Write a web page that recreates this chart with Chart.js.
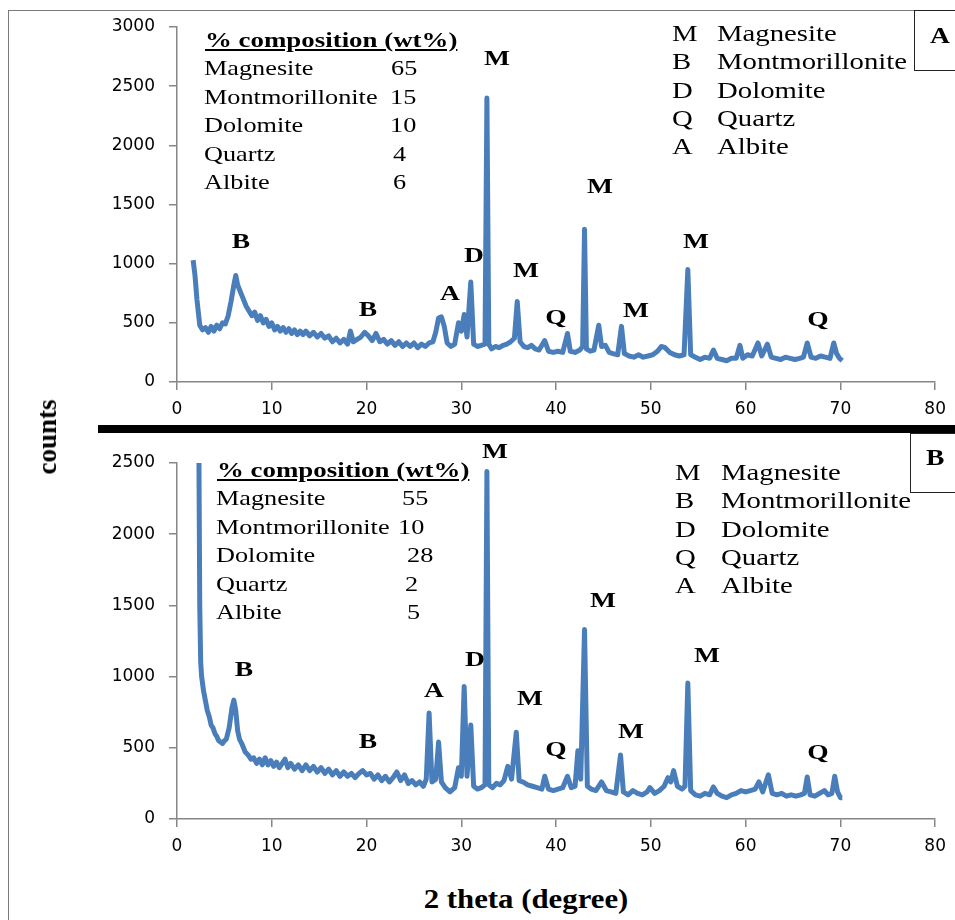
<!DOCTYPE html>
<html>
<head>
<meta charset="utf-8">
<script src="https://cdn.jsdelivr.net/npm/chart.js@4.4.0/dist/chart.umd.min.js"></script>
<style>
  body { margin: 0; background: #fff; }
  #page { position: relative; width: 955px; height: 920px; overflow: hidden; background: #fff; }
  canvas { position: absolute; left: 0; }
  .t { position: absolute; font-family: "Liberation Serif", "Times New Roman", serif; color: #000; white-space: nowrap; transform-origin: left center; line-height: 24px; }
  .pk { font-weight: bold; font-size: 22px; transform: translateX(-50%) scaleX(1.25); transform-origin: center center; }
  .frame { position: absolute; left: 8px; top: 10px; width: 960px; height: 920px; border-left: 1.5px solid #7a7a7a; border-top: 1.5px solid #7a7a7a; }
  .bar { position: absolute; left: 98px; top: 425px; width: 870px; height: 8px; background: #000; }
  .box { position: absolute; border: 1.5px solid #222; background: #fff; }
</style>
</head>
<body>
<div id="page">
  <div class="frame"></div>
  <canvas id="chartA" width="955" height="425" style="top:0"></canvas>
  <canvas id="chartB" width="955" height="440" style="top:430px"></canvas>
  <div class="bar"></div>
  <div class="box" style="left:914px; top:10px; width:60px; height:59px;"></div>
  <div class="box" style="left:910px; top:433px; width:60px; height:58px;"></div>
  <div id="texts"></div>
</div>
<script>
// phases and compositions (wt%)
const phaseCodes = ["M", "B", "D", "Q", "A"];
const phaseNames = ["Magnesite", "Montmorillonite", "Dolomite", "Quartz", "Albite"];
const compA = ["65", "15", "10", "4", "6"];
const compB = ["55", "10", "28", "2", "5"];

// x axis (2 theta) and y axes
const xTickStep = 10;
const yMaxA = 3000;
const yMaxB = 2500;

// sample A
const thetaA = [1.7, 1.9, 2.1, 2.4, 2.7, 3.0, 3.3, 3.6, 3.9, 4.2, 4.5, 4.8, 5.1, 5.4, 5.7, 6.0, 6.2, 6.4, 6.7, 7.0,
  7.3, 7.6, 7.9, 8.2, 8.5, 8.8, 9.1, 9.4, 9.7, 10.0, 10.3, 10.6, 10.9, 11.2, 11.5, 11.8, 12.1, 12.4, 12.7, 13.0,
  13.3, 13.6, 14.0, 14.4, 14.8, 15.2, 15.6, 16.0, 16.4, 16.8, 17.2, 17.6, 18.0, 18.3, 18.6, 19.0, 19.4, 19.8, 20.2, 20.6,
  21.0, 21.4, 21.8, 22.2, 22.6, 23.0, 23.4, 23.8, 24.2, 24.6, 25.0, 25.4, 25.8, 26.2, 26.6, 27.0, 27.3, 27.6, 27.9, 28.2,
  28.5, 28.9, 29.3, 29.7, 30.0, 30.3, 30.6, 31.0, 31.3, 31.7, 32.1, 32.5, 32.7, 32.9, 33.2, 33.6, 34.0, 34.4, 34.8, 35.2,
  35.6, 35.9, 36.2, 36.6, 37.0, 37.4, 37.8, 38.2, 38.8, 39.2, 39.7, 40.2, 40.7, 41.2, 41.5, 42.0, 42.5, 42.8, 43.0, 43.2,
  43.6, 44.0, 44.5, 44.8, 45.2, 45.6, 46.0, 46.5, 46.9, 47.2, 47.7, 48.2, 48.7, 49.2, 49.7, 50.2, 50.7, 51.1, 51.5, 52.0,
  52.5, 53.0, 53.5, 53.9, 54.2, 54.7, 55.2, 55.7, 56.2, 56.6, 57.0, 57.5, 58.0, 58.5, 59.0, 59.4, 59.7, 60.2, 60.7, 61.3,
  61.7, 62.3, 62.7, 63.2, 63.7, 64.2, 64.7, 65.2, 65.7, 66.1, 66.5, 66.9, 67.4, 67.9, 68.4, 68.9, 69.3, 69.6, 69.9, 70.2];
const countsA = [1030, 900, 700, 480, 440, 460, 420, 470, 430, 480, 450, 500, 490, 560, 680, 820, 900, 820, 760, 700,
  640, 600, 560, 590, 520, 560, 500, 530, 470, 500, 440, 470, 430, 460, 420, 450, 410, 440, 400, 430,
  400, 430, 390, 420, 380, 410, 370, 390, 340, 370, 330, 360, 320, 430, 340, 360, 380, 420, 390, 350,
  410, 340, 360, 320, 350, 310, 340, 300, 330, 300, 330, 290, 320, 300, 330, 340, 420, 540, 550, 470,
  330, 300, 320, 500, 430, 570, 380, 845, 320, 300, 310, 320, 2400, 320, 280, 300, 290, 310, 320, 340,
  370, 680, 340, 300, 290, 310, 280, 270, 350, 260, 250, 260, 250, 410, 260, 250, 270, 300, 1290, 280,
  260, 270, 480, 300, 310, 250, 240, 230, 470, 240, 220, 210, 230, 210, 220, 230, 260, 300, 290, 250,
  230, 220, 230, 950, 230, 210, 190, 210, 200, 270, 200, 190, 180, 200, 200, 310, 200, 230, 220, 330,
  220, 320, 210, 200, 190, 210, 200, 190, 200, 210, 330, 210, 200, 220, 210, 200, 330, 240, 200, 180];

// sample B
const thetaB = [2.3, 2.4, 2.5, 2.6, 2.8, 3.0, 3.2, 3.4, 3.6, 3.8, 4.0, 4.2, 4.4, 4.6, 4.8, 5.0, 5.2, 5.5, 5.8, 6.0,
  6.2, 6.4, 6.6, 6.9, 7.2, 7.5, 7.8, 8.1, 8.4, 8.7, 9.0, 9.3, 9.6, 9.9, 10.2, 10.5, 10.8, 11.1, 11.4, 11.7,
  12.0, 12.4, 12.8, 13.2, 13.6, 14.0, 14.4, 14.8, 15.2, 15.6, 16.0, 16.4, 16.8, 17.2, 17.6, 18.0, 18.4, 18.8, 19.2, 19.6,
  20.0, 20.4, 20.8, 21.2, 21.6, 22.0, 22.4, 22.8, 23.2, 23.6, 24.0, 24.4, 24.8, 25.2, 25.6, 26.0, 26.3, 26.6, 26.9, 27.3,
  27.6, 27.9, 28.3, 28.8, 29.3, 29.7, 30.0, 30.3, 30.6, 31.0, 31.3, 31.7, 32.1, 32.5, 32.7, 32.9, 33.3, 33.7, 34.1, 34.5,
  34.9, 35.3, 35.8, 36.1, 36.5, 37.0, 37.5, 38.0, 38.5, 38.8, 39.2, 39.7, 40.2, 40.7, 41.2, 41.6, 42.0, 42.3, 42.6, 43.0,
  43.3, 43.7, 44.2, 44.8, 45.3, 45.8, 46.3, 46.8, 47.1, 47.6, 48.1, 48.6, 49.1, 49.6, 49.9, 50.4, 50.9, 51.4, 51.8, 52.1,
  52.4, 52.8, 53.3, 53.6, 53.9, 54.2, 54.7, 55.2, 55.7, 56.2, 56.6, 57.0, 57.5, 58.0, 58.5, 59.0, 59.5, 60.0, 60.5, 61.0,
  61.4, 61.8, 62.4, 62.8, 63.3, 63.8, 64.3, 64.8, 65.3, 65.8, 66.2, 66.5, 66.8, 67.3, 67.8, 68.3, 68.7, 69.1, 69.4, 69.7,
  70.0, 70.2];
const countsB = [2700, 1500, 1100, 1000, 900, 830, 760, 720, 660, 640, 600, 580, 550, 540, 530, 550, 560, 640, 780, 835,
  760, 620, 560, 520, 470, 450, 420, 430, 390, 420, 380, 430, 380, 410, 370, 400, 360, 390, 420, 360,
  390, 350, 380, 340, 380, 340, 370, 330, 360, 320, 350, 310, 340, 300, 330, 300, 320, 290, 320, 340,
  310, 320, 280, 310, 270, 300, 260, 290, 330, 270, 310, 250, 270, 240, 260, 230, 280, 745, 260, 280,
  540, 260, 220, 190, 220, 360, 300, 930, 300, 660, 230, 210, 220, 240, 2440, 240, 220, 250, 240, 270,
  370, 280, 610, 270, 260, 240, 230, 220, 210, 300, 210, 200, 210, 220, 300, 220, 230, 480, 280, 1330,
  230, 210, 200, 260, 200, 190, 180, 450, 190, 170, 200, 180, 170, 190, 220, 180, 200, 230, 290, 260,
  340, 230, 210, 230, 955, 200, 170, 160, 180, 170, 225, 180, 160, 150, 170, 180, 200, 190, 200, 210,
  260, 190, 310, 180, 170, 180, 160, 170, 160, 170, 180, 295, 170, 160, 180, 200, 170, 180, 300, 190,
  150, 150];

const lineColor = "#4a7ebb";
const tickFont = { family: "DejaVu Sans", size: 17 };

function makeChart(id, theta, counts, yMax, padTop, xHeight) {
  const pts = theta.map((t, i) => ({ x: t, y: counts[i] }));
  return new Chart(document.getElementById(id), {
    type: 'scatter',
    data: {
      datasets: [{
        data: pts,
        showLine: true,
        borderColor: lineColor,
        backgroundColor: lineColor,
        borderWidth: 5,
        pointRadius: 0,
        tension: 0,
        borderJoinStyle: 'round'
      }]
    },
    options: {
      responsive: false,
      animation: false,
      devicePixelRatio: 1,
      layout: { padding: { top: padTop, right: 14, left: 0, bottom: 0 } },
      plugins: { legend: { display: false }, tooltip: { enabled: false } },
      scales: {
        x: {
          type: 'linear', min: 0, max: 80,
          ticks: { stepSize: xTickStep, padding: 9, color: '#000', font: tickFont, maxRotation: 0, callback: v => String(v) },
          grid: { drawOnChartArea: false, tickLength: 8, color: '#868686', lineWidth: 1.5 },
          border: { color: '#868686', width: 1.5 },
          afterFit(s) { s.height = xHeight; }
        },
        y: {
          min: 0, max: yMax,
          ticks: { stepSize: 500, padding: 14, color: '#000', font: tickFont, callback: v => String(v) },
          grid: { drawOnChartArea: false, tickLength: 8, color: '#868686', lineWidth: 1.5 },
          border: { color: '#868686', width: 1.5 },
          afterFit(s) { s.width = 177; }
        }
      }
    }
  });
}

makeChart("chartA", thetaA, countsA, yMaxA, 27, 43);
makeChart("chartB", thetaB, countsB, yMaxB, 33, 51);

// text overlays
const texts = document.getElementById("texts");
function addText(str, x, cy, size, extra, cls) {
  const d = document.createElement("div");
  d.className = "t" + (cls ? " " + cls : "");
  d.textContent = str;
  d.style.left = x + "px";
  d.style.top = (cy - 12) + "px";
  d.style.fontSize = size + "px";
  if (extra) Object.assign(d.style, extra);
  texts.appendChild(d);
  return d;
}
const wide = { transform: "scaleX(1.25)" };

// composition tables
function table(x, cy, valX, comp) {
  addText("% composition (wt%)", x, cy, 21, { fontWeight: "bold", textDecoration: "underline", transform: "scaleX(1.28)" });
  phaseNames.forEach((n, i) => {
    addText(n, x - 1, cy + 28 + i * 28.5, 21, wide);
    addText(comp[i], valX[i], cy + 28 + i * 28.5, 21, wide);
  });
}
table(205, 40, [391, 390, 390, 393, 393], compA);
table(217, 470, [402, 398, 407, 405, 407], compB);

// phase legends
function legend(x1, x2, cy) {
  phaseCodes.forEach((c, i) => {
    addText(c, x1, cy + i * 28.3, 23, wide);
    addText(phaseNames[i], x2, cy + i * 28.3, 23, wide);
  });
}
legend(672, 717, 34);
legend(675, 721, 473);

// peak labels
const peaksA = [["B", 241, 241], ["B", 368, 309], ["A", 450, 293], ["D", 474, 255], ["M", 497, 58], ["M", 526, 270],
  ["Q", 556, 317], ["M", 600, 186], ["M", 636, 310], ["M", 696, 241], ["Q", 818, 319]];
const peaksB = [["B", 244, 669], ["B", 368, 741], ["A", 434, 690], ["D", 475, 659], ["M", 495, 451], ["M", 530, 698],
  ["Q", 556, 749], ["M", 603, 600], ["M", 631, 731], ["M", 707, 655], ["Q", 818, 752]];
peaksA.concat(peaksB).forEach(p => addText(p[0], p[1], p[2], 22, null, "pk"));

// panel tags
addText("A", 930, 36, 23, { fontWeight: "bold", transform: "scaleX(1.2)" });
addText("B", 926, 458, 23, { fontWeight: "bold", transform: "scaleX(1.2)" });

// axis titles
addText("counts", 47, 437, 27, { fontWeight: "bold", transform: "translateX(-50%) rotate(-90deg)", transformOrigin: "center center" });
addText("2 theta (degree)", 526, 899, 28, { fontWeight: "bold", transform: "translateX(-50%) scaleX(1.1)", transformOrigin: "center center", lineHeight: "24px" });
</script>
</body>
</html>
